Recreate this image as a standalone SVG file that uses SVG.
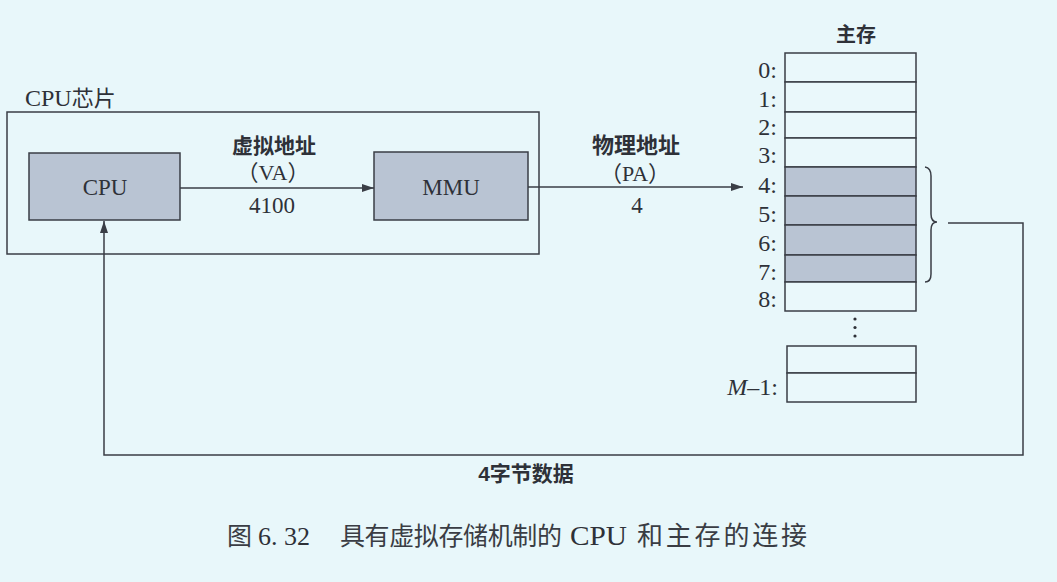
<svg xmlns="http://www.w3.org/2000/svg" width="1057" height="582" viewBox="0 0 1057 582">
<defs>
<marker id="arr" viewBox="0 0 12 8" refX="12" refY="4" markerWidth="12" markerHeight="8" markerUnits="userSpaceOnUse" orient="auto">
<path d="M0,0 L12,4 L0,8 Z" fill="#3a3e46"/>
</marker>
<style>
.ln{fill:none;stroke:#3a3e46;stroke-width:1.5}
.box{fill:#b9c4d3;stroke:#3a3e46;stroke-width:1.5}
.cell{fill:#eaf8fb;stroke:#3a3e46;stroke-width:1.5}
.sh{fill:#b9c4d3;stroke:#3a3e46;stroke-width:1.5}
.lat{font-family:"Liberation Serif","Noto Sans CJK SC",serif;fill:#2e3138}
.cjk{font-family:"Noto Sans CJK SC",sans-serif;fill:#2e3138;font-weight:700}
.cap{font-family:"Noto Sans CJK SC",sans-serif;fill:#3a3d44;font-weight:400}
.num{font-family:"Liberation Serif",serif;fill:#2e3138;font-size:24px;text-anchor:end}
</style>
</defs>
<rect x="0" y="0" width="1057" height="582" fill="#e8f7fa"/>

<g id="cpu-chip">
<rect x="7" y="112" width="532" height="142" class="ln"/>
<text x="25" y="106" class="lat" font-size="24">CPU<tspan font-family="Noto Sans CJK SC,sans-serif" font-size="22">芯片</tspan></text>
</g>

<g id="cpu">
<rect x="29" y="153" width="151" height="67" class="box"/>
<text x="105" y="195" class="lat" font-size="23" text-anchor="middle">CPU</text>
</g>

<g id="mmu">
<rect x="374" y="152" width="154" height="68" class="box"/>
<text x="451" y="195" class="lat" font-size="23" text-anchor="middle">MMU</text>
</g>

<g id="memory">
<text x="856" y="42" class="cjk" font-size="20" text-anchor="middle">主存</text>
<rect x="785" y="53" width="131" height="29" class="cell"/>
<rect x="785" y="82" width="131" height="30" class="cell"/>
<rect x="785" y="112" width="131" height="26" class="cell"/>
<rect x="785" y="138" width="131" height="29" class="cell"/>
<rect x="785" y="167" width="131" height="29" class="sh"/>
<rect x="785" y="196" width="131" height="29" class="sh"/>
<rect x="785" y="225" width="131" height="30" class="sh"/>
<rect x="785" y="255" width="131" height="27" class="sh"/>
<rect x="785" y="282" width="131" height="29" class="cell"/>
<rect x="787" y="346" width="129" height="27" class="cell"/>
<rect x="787" y="373" width="129" height="29" class="cell"/>
<text x="777" y="78" class="num">0:</text>
<text x="777" y="107" class="num">1:</text>
<text x="777" y="135" class="num">2:</text>
<text x="777" y="163" class="num">3:</text>
<text x="777" y="193" class="num">4:</text>
<text x="777" y="222" class="num">5:</text>
<text x="777" y="251" class="num">6:</text>
<text x="777" y="280" class="num">7:</text>
<text x="777" y="307" class="num">8:</text>
<text x="778" y="395" class="num"><tspan font-style="italic">M</tspan>–1:</text>
<circle cx="855" cy="319" r="1.6" fill="#2e3138"/>
<circle cx="855" cy="327.5" r="1.6" fill="#2e3138"/>
<circle cx="855" cy="336" r="1.6" fill="#2e3138"/>
<path d="M925,167 Q931,168 931,176 L931,214 Q931,222 937,222 Q931,222 931,230 L931,274 Q931,282 925,282" class="ln"/>
</g>

<g id="connectors">
<line x1="180" y1="188" x2="374" y2="188" class="ln" marker-end="url(#arr)"/>
<line x1="528" y1="187" x2="743" y2="187" class="ln" marker-end="url(#arr)"/>
<path d="M948,223 H1023 V455 H104 V221" class="ln" marker-end="url(#arr)"/>
</g>

<g id="labels">
<text x="274" y="153" class="cjk" font-size="21" text-anchor="middle">虚拟地址</text>
<text x="273" y="180" class="lat" font-size="22" text-anchor="middle">（VA）</text>
<text x="272" y="213" class="lat" font-size="23" text-anchor="middle">4100</text>
<text x="636" y="153" class="cjk" font-size="22" text-anchor="middle">物理地址</text>
<text x="635" y="181" class="lat" font-size="22" text-anchor="middle">（PA）</text>
<text x="637" y="213" class="lat" font-size="23" text-anchor="middle">4</text>
<text x="526" y="481" class="cjk" font-size="21" text-anchor="middle"><tspan font-family="Liberation Sans,sans-serif">4</tspan>字节数据</text>
</g>

<g id="caption">
<text x="227" y="545" class="cap" font-size="25">图</text>
<text x="258" y="545" class="lat" font-size="26" fill="#3a3d44">6. 32</text>
<text x="340" y="545" class="cap" font-size="25" textLength="222" lengthAdjust="spacing">具有虚拟存储机制的</text>
<text x="570" y="545" class="lat" font-size="27" fill="#3a3d44" textLength="57" lengthAdjust="spacingAndGlyphs">CPU</text>
<text x="637" y="545" class="cap" font-size="26" textLength="170" lengthAdjust="spacing">和主存的连接</text>
</g>
</svg>
